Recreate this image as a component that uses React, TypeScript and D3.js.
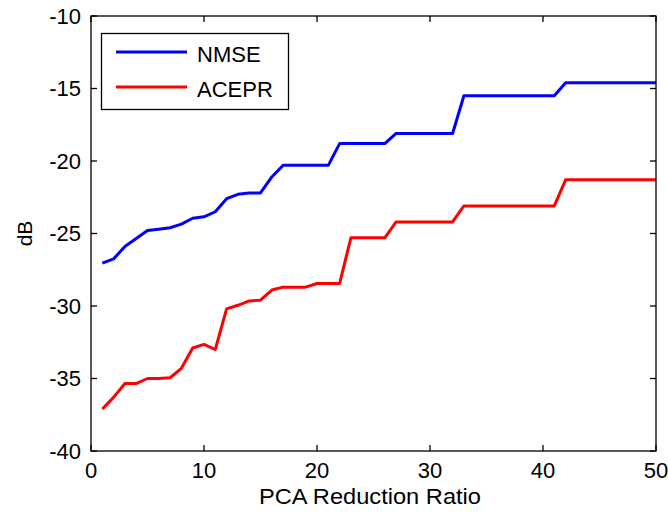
import React from "react";
import * as d3 from "d3";

const ratios = [1,2,3,4,5,6,7,8,9,10,11,12,13,14,15,16,17,18,19,20,21,22,23,24,25,26,27,28,29,30,31,32,33,34,35,36,37,38,39,40,41,42,43,44,45,46,47,48,49,50];

const nmse = [
  -27.05,-26.75,-25.9,-25.35,-24.8,-24.7,-24.6,-24.35,-23.95,-23.85,
  -23.5,-22.6,-22.3,-22.2,-22.2,-21.1,-20.3,-20.3,-20.3,-20.3,
  -20.3,-18.8,-18.8,-18.8,-18.8,-18.8,-18.1,-18.1,-18.1,-18.1,
  -18.1,-18.1,-15.5,-15.5,-15.5,-15.5,-15.5,-15.5,-15.5,-15.5,
  -15.5,-14.6,-14.6,-14.6,-14.6,-14.6,-14.6,-14.6,-14.6,-14.6,
];

const acepr = [
  -37.1,-36.3,-35.35,-35.35,-35.0,-35.0,-34.95,-34.3,-32.9,-32.65,
  -33.0,-30.2,-29.95,-29.65,-29.6,-28.9,-28.7,-28.7,-28.7,-28.45,
  -28.45,-28.45,-25.3,-25.3,-25.3,-25.3,-24.2,-24.2,-24.2,-24.2,
  -24.2,-24.2,-23.1,-23.1,-23.1,-23.1,-23.1,-23.1,-23.1,-23.1,
  -23.1,-21.3,-21.3,-21.3,-21.3,-21.3,-21.3,-21.3,-21.3,-21.3,
];

const xTicks = [0, 10, 20, 30, 40, 50];
const yTicks = [-40, -35, -30, -25, -20, -15, -10];
const seriesNames = ["NMSE", "ACEPR"];
const seriesColors = ["#0000ff", "#ff0000"];

const W = 668, H = 515;
const L = 91, R = 656, T = 16, B = 451;
const FONT = "Arial, 'Liberation Sans', sans-serif";

export default function App() {
  const x = d3.scaleLinear().domain([0, 50]).range([L, R]);
  const y = d3.scaleLinear().domain([-40, -10]).range([B, T]);
  const line = d3.line<[number, number]>().x(d => x(d[0])).y(d => y(d[1]));
  const series = [nmse, acepr].map(vals => ratios.map((r, i) => [r, vals[i]] as [number, number]));
  const tl = 6;
  return (
    <svg width={W} height={H} style={{ position: "absolute", left: 0, top: 0, background: "#fff" }}>
      <rect x={0} y={0} width={W} height={H} fill="#fff" />
      {series.map((s, i) => (
        <path key={i} d={line(s) || ""} fill="none" stroke={seriesColors[i]} strokeWidth={3} strokeLinejoin="round" />
      ))}
      <rect x={L} y={T} width={R - L} height={B - T} fill="none" stroke="#000" strokeWidth={1.3} />
      {xTicks.map(t => (
        <g key={"x" + t}>
          <line x1={x(t)} x2={x(t)} y1={B} y2={B - tl} stroke="#000" strokeWidth={1.3} />
          <line x1={x(t)} x2={x(t)} y1={T} y2={T + tl} stroke="#000" strokeWidth={1.3} />
          <text x={x(t)} y={478} textAnchor="middle" fontFamily={FONT} fontSize={22} fill="#000">{t}</text>
        </g>
      ))}
      {yTicks.map(t => (
        <g key={"y" + t}>
          <line x1={L} x2={L + tl} y1={y(t)} y2={y(t)} stroke="#000" strokeWidth={1.3} />
          <line x1={R} x2={R - tl} y1={y(t)} y2={y(t)} stroke="#000" strokeWidth={1.3} />
          <text x={81} y={y(t)} dy="0.36em" textAnchor="end" fontFamily={FONT} fontSize={22} fill="#000">{t}</text>
        </g>
      ))}
      <text x={370} y={504} textAnchor="middle" fontFamily={FONT} fontSize={22} textLength={222} lengthAdjust="spacingAndGlyphs" fill="#000">PCA Reduction Ratio</text>
      <text transform={`translate(32,${(T + B) / 2}) rotate(-90)`} textAnchor="middle" fontFamily={FONT} fontSize={21} fill="#000">dB</text>
      <rect x={101.5} y={33.5} width={187} height={76} fill="#fff" stroke="#000" strokeWidth={1.3} />
      {seriesNames.map((n, i) => (
        <g key={n}>
          <line x1={116} x2={187} y1={52 + i * 35} y2={52 + i * 35} stroke={seriesColors[i]} strokeWidth={3} />
          <text x={197} y={62 + i * 35} fontFamily={FONT} fontSize={22} fill="#000">{n}</text>
        </g>
      ))}
    </svg>
  );
}
